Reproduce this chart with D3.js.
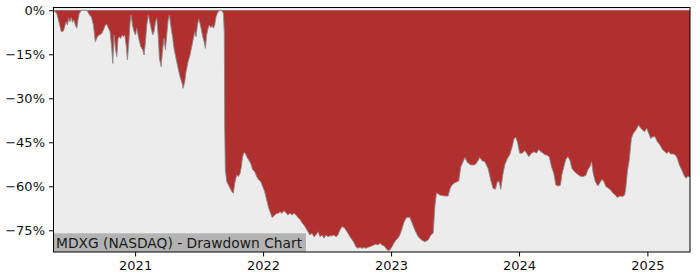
<!DOCTYPE html>
<html>
<head>
<meta charset="utf-8">
<script src="https://cdn.jsdelivr.net/npm/d3@7"></script>
<style>
  html, body { margin: 0; padding: 0; background: #ffffff; }
  svg { display: block; }
  text { font-family: "DejaVu Sans", sans-serif; }
</style>
</head>
<body>
<svg id="chart" width="700" height="280"></svg>
<script>
// Time as fractional years
const years = [
  2020.365, 2020.389, 2020.409, 2020.425, 2020.441, 2020.451, 2020.461, 2020.472, 2020.482, 2020.493,
  2020.503, 2020.513, 2020.524, 2020.534, 2020.545, 2020.555, 2020.565, 2020.584, 2020.610, 2020.628,
  2020.644, 2020.659, 2020.675, 2020.690, 2020.706, 2020.722, 2020.740, 2020.753, 2020.766, 2020.779,
  2020.792, 2020.805, 2020.818, 2020.826, 2020.836, 2020.846, 2020.857, 2020.867, 2020.878, 2020.888,
  2020.899, 2020.909, 2020.919, 2020.930, 2020.940, 2020.951, 2020.961, 2020.969, 2020.979, 2020.992,
  2021.003, 2021.013, 2021.023, 2021.034, 2021.044, 2021.060, 2021.070, 2021.081, 2021.091, 2021.104,
  2021.117, 2021.128, 2021.138, 2021.148, 2021.159, 2021.169, 2021.180, 2021.190, 2021.203, 2021.216,
  2021.226, 2021.237, 2021.247, 2021.258, 2021.268, 2021.278, 2021.294, 2021.304, 2021.320, 2021.336,
  2021.351, 2021.367, 2021.375, 2021.388, 2021.398, 2021.414, 2021.429, 2021.445, 2021.455, 2021.466,
  2021.476, 2021.487, 2021.497, 2021.507, 2021.518, 2021.528, 2021.539, 2021.549, 2021.559, 2021.570,
  2021.580, 2021.591, 2021.601, 2021.611, 2021.622, 2021.632, 2021.648, 2021.664, 2021.679, 2021.690,
  2021.697, 2021.700, 2021.705, 2021.716, 2021.736, 2021.755, 2021.768, 2021.778, 2021.794, 2021.807,
  2021.820, 2021.830, 2021.840, 2021.851, 2021.861, 2021.872, 2021.887, 2021.903, 2021.919, 2021.934,
  2021.950, 2021.965, 2021.981, 2021.997, 2022.012, 2022.028, 2022.044, 2022.059, 2022.070, 2022.085,
  2022.101, 2022.119, 2022.132, 2022.148, 2022.163, 2022.179, 2022.194, 2022.210, 2022.226, 2022.241,
  2022.257, 2022.272, 2022.288, 2022.304, 2022.319, 2022.335, 2022.351, 2022.366, 2022.382, 2022.398,
  2022.413, 2022.429, 2022.445, 2022.460, 2022.476, 2022.491, 2022.507, 2022.523, 2022.538, 2022.554,
  2022.570, 2022.585, 2022.600, 2022.616, 2022.632, 2022.647, 2022.663, 2022.679, 2022.694, 2022.710,
  2022.725, 2022.741, 2022.756, 2022.772, 2022.788, 2022.803, 2022.819, 2022.835, 2022.850, 2022.866,
  2022.882, 2022.897, 2022.913, 2022.928, 2022.944, 2022.960, 2022.975, 2022.991, 2023.007, 2023.022,
  2023.038, 2023.054, 2023.069, 2023.082, 2023.103, 2023.121, 2023.147, 2023.165, 2023.186, 2023.212,
  2023.238, 2023.264, 2023.290, 2023.311, 2023.329, 2023.342, 2023.355, 2023.381, 2023.420, 2023.446,
  2023.462, 2023.477, 2023.498, 2023.529, 2023.545, 2023.563, 2023.576, 2023.597, 2023.623, 2023.654,
  2023.675, 2023.693, 2023.711, 2023.732, 2023.758, 2023.779, 2023.797, 2023.815, 2023.831, 2023.844,
  2023.857, 2023.875, 2023.888, 2023.909, 2023.927, 2023.946, 2023.961, 2023.974, 2023.987, 2024.005,
  2024.024, 2024.044, 2024.060, 2024.076, 2024.097, 2024.117, 2024.136, 2024.154, 2024.169, 2024.188,
  2024.201, 2024.214, 2024.235, 2024.253, 2024.271, 2024.287, 2024.305, 2024.323, 2024.333, 2024.349,
  2024.365, 2024.380, 2024.396, 2024.412, 2024.432, 2024.453, 2024.474, 2024.500, 2024.521, 2024.536,
  2024.552, 2024.565, 2024.578, 2024.594, 2024.614, 2024.630, 2024.646, 2024.661, 2024.677, 2024.698,
  2024.714, 2024.729, 2024.750, 2024.766, 2024.786, 2024.807, 2024.823, 2024.833, 2024.844, 2024.859,
  2024.875, 2024.891, 2024.911, 2024.932, 2024.948, 2024.963, 2024.979, 2024.995, 2025.010, 2025.026,
  2025.042, 2025.060, 2025.078, 2025.098, 2025.120, 2025.138, 2025.151, 2025.166, 2025.182, 2025.203,
  2025.219, 2025.234, 2025.250, 2025.268, 2025.286, 2025.302, 2025.315, 2025.333
];

// Drawdown in percent
const drawdown = [
  0.0, -1.0, -4.4, -7.3, -7.1, -5.6, -3.9, -5.0, -2.7, -3.9,
  -2.5, -4.1, -3.3, -5.0, -6.1, -3.3, -1.0, 0.0, 0.0, -0.2,
  -1.6, -2.2, -5.0, -10.7, -9.0, -8.4, -7.9, -6.7, -5.2, -4.8,
  -6.1, -7.3, -13.0, -18.1, -8.4, -13.0, -15.8, -9.6, -9.0, -9.6,
  -8.4, -9.0, -8.4, -11.8, -16.9, -10.7, -3.9, -1.6, -5.0, -7.3,
  -8.4, -6.1, -8.4, -10.7, -12.4, -13.5, -15.2, -10.7, -5.0, -1.6,
  -4.4, -6.7, -8.4, -7.3, -3.9, -2.7, -8.4, -16.4, -19.2, -13.0,
  -9.6, -13.5, -8.4, -3.3, -1.6, -5.0, -9.6, -13.0, -16.4, -19.8,
  -22.6, -24.9, -26.6, -24.3, -20.9, -17.5, -15.2, -11.8, -9.6, -7.3,
  -9.0, -5.0, -3.0, -4.4, -6.7, -9.0, -10.7, -13.0, -8.4, -6.1,
  -5.0, -5.9, -5.2, -6.1, -5.0, -2.2, -0.5, 0.0, -0.2, -1.0,
  -8.0, -40.0, -54.4, -58.4, -60.1, -61.8, -62.4, -59.0, -56.1, -56.7,
  -55.6, -53.3, -49.9, -48.5, -48.7, -49.9, -51.0, -52.2, -54.4, -55.0,
  -56.7, -57.8, -58.4, -60.1, -61.8, -64.7, -67.5, -69.2, -70.6, -70.1,
  -69.4, -69.2, -68.7, -69.2, -68.3, -69.0, -69.8, -69.2, -69.8, -69.2,
  -69.8, -70.6, -71.3, -72.4, -73.2, -74.3, -75.5, -76.6, -76.0, -77.2,
  -76.6, -75.5, -77.2, -76.6, -77.7, -76.6, -77.2, -76.9, -76.9, -76.6,
  -77.2, -76.6, -74.9, -73.8, -74.0, -74.9, -76.0, -77.2, -78.1, -79.2,
  -80.6, -81.1, -80.8, -81.1, -80.9, -81.1, -80.8, -80.6, -80.3, -80.0,
  -79.7, -80.0, -79.4, -80.0, -80.3, -81.1, -81.9, -81.7, -80.6, -79.4,
  -78.3, -77.7, -76.5, -74.9, -72.0, -70.6, -70.6, -72.6, -74.9, -77.2,
  -78.3, -78.9, -78.3, -76.6, -76.0, -66.9, -62.2, -63.0, -63.3, -63.3,
  -60.7, -59.5, -58.8, -58.2, -53.3, -51.6, -50.2, -51.9, -52.7, -52.7,
  -51.6, -50.2, -51.3, -51.6, -53.9, -57.9, -60.7, -61.0, -58.4, -58.4,
  -61.0, -55.6, -52.7, -50.5, -49.3, -46.5, -43.7, -43.3, -44.8, -48.7,
  -48.7, -47.9, -48.7, -49.9, -48.7, -48.2, -48.7, -47.4, -48.2, -48.7,
  -49.3, -49.3, -49.9, -53.3, -55.6, -59.6, -59.9, -59.6, -56.2, -53.3,
  -50.8, -49.9, -51.0, -53.9, -55.0, -55.8, -56.5, -56.7, -56.2, -54.4,
  -53.3, -51.6, -55.6, -58.4, -59.9, -58.8, -57.6, -58.4, -60.1, -60.7,
  -61.3, -62.2, -63.0, -63.8, -63.3, -63.5, -63.0, -60.1, -55.0, -51.0,
  -43.7, -41.9, -40.8, -39.1, -40.2, -40.8, -41.4, -40.2, -41.9, -43.7,
  -43.1, -43.1, -44.8, -45.9, -47.6, -48.2, -48.8, -48.2, -49.0, -49.0,
  -49.3, -50.5, -52.7, -54.4, -56.2, -57.3, -56.7, -56.7
];

const yTicks = [0, -15, -30, -45, -60, -75];
const xTickYears = [2021, 2022, 2023, 2024, 2025];
const title = "MDXG (NASDAQ) - Drawdown Chart";

function yearToDate(yf) {
  const y = Math.floor(yf);
  const s = Date.UTC(y, 0, 1), e = Date.UTC(y + 1, 0, 1);
  return new Date(s + (yf - y) * (e - s));
}

const data = years.map((yr, i) => ({ date: yearToDate(yr), v: drawdown[i] }));

const L = 53.5, R = 690, T = 7.5, B = 252;
const svg = d3.select("#chart");

const x = d3.scaleUtc()
  .domain([yearToDate(2020.364), yearToDate(2025.333)])
  .range([L, R]);
const y = d3.scaleLinear().domain([-82.4, 0.95]).range([B, T]);

// background
svg.append("rect").attr("x", L).attr("y", T).attr("width", R - L).attr("height", B - T)
  .attr("fill", "#ececec");

const clip = svg.append("clipPath").attr("id", "clip");
clip.append("rect").attr("x", L).attr("y", T).attr("width", R - L).attr("height", B - T);

const g = svg.append("g").attr("clip-path", "url(#clip)");

const area = d3.area()
  .x(d => x(d.date))
  .y0(y(0))
  .y1(d => y(d.v));
g.append("path").datum(data).attr("d", area).attr("fill", "#b03030");

const line = d3.line().x(d => x(d.date)).y(d => y(d.v));
g.append("path").datum(data).attr("d", line)
  .attr("fill", "none").attr("stroke", "#8a8a8a").attr("stroke-width", 1).attr("stroke-opacity", 0.9);

// title box
const tb = svg.append("g");
tb.append("rect").attr("x", L).attr("y", 233.3).attr("width", 306 - L).attr("height", B - 233.3)
  .attr("fill", "#b3b3b3");
tb.append("text").attr("x", 56).attr("y", 247.5).attr("font-size", 13.8).attr("fill", "#1a1a1a")
  .text(title);

// axes
const yAxis = d3.axisLeft(y).tickValues(yTicks).tickSize(4.5).tickPadding(4)
  .tickFormat(d => (d < 0 ? "\u2212" + Math.abs(d) : d) + "%");
const ya = svg.append("g").attr("transform", `translate(${L},0)`).call(yAxis);
ya.select(".domain").remove();
ya.selectAll("text").attr("font-size", 13).attr("fill", "#111").attr("font-family", "DejaVu Sans, sans-serif");
ya.selectAll("line").attr("stroke", "#000");

const xAxis = d3.axisBottom(x).tickValues(xTickYears.map(yr => yearToDate(yr)))
  .tickSize(4.5).tickPadding(4).tickFormat(d3.utcFormat("%Y"));
const xa = svg.append("g").attr("transform", `translate(0,${B})`).call(xAxis);
xa.select(".domain").remove();
xa.selectAll("text").attr("font-size", 13).attr("fill", "#111").attr("font-family", "DejaVu Sans, sans-serif");
xa.selectAll("line").attr("stroke", "#000");

// frame
svg.append("rect").attr("x", L).attr("y", T).attr("width", R - L).attr("height", B - T)
  .attr("fill", "none").attr("stroke", "#000").attr("stroke-width", 1);
</script>
</body>
</html>
